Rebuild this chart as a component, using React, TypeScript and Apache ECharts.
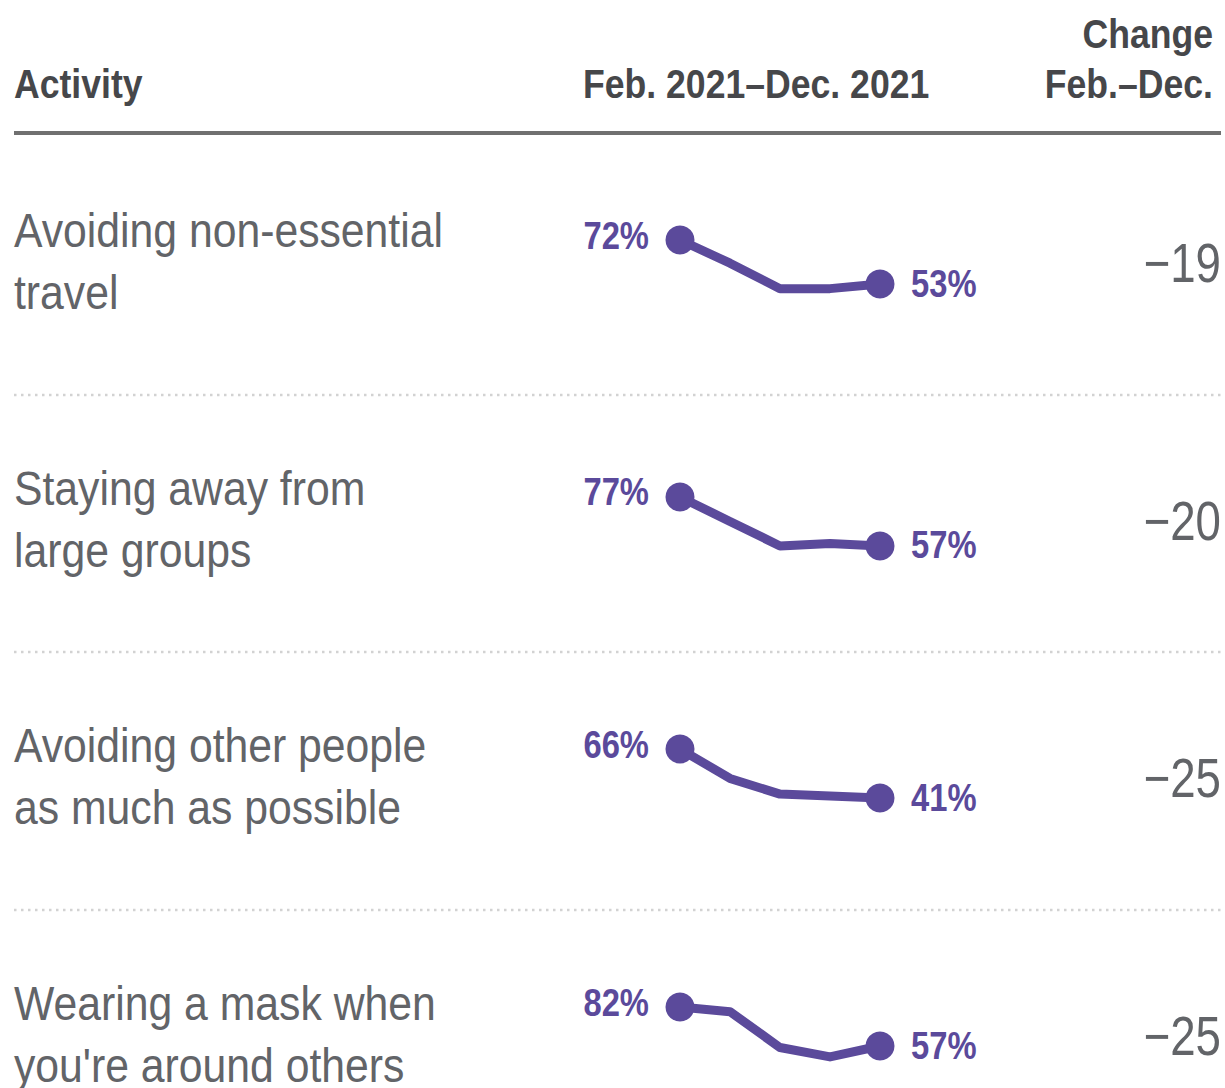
import React, { useEffect, useRef } from "react";
import * as echarts from "echarts";

const months = ["Feb", "Apr", "Jun", "Sep", "Dec"];
const activities = [
  ["Avoiding non-essential", "travel"],
  ["Staying away from", "large groups"],
  ["Avoiding other people", "as much as possible"],
  ["Wearing a mask when", "you're around others"],
];
const travel = [72, 62, 51, 51, 53];
const groups = [77, 67, 57, 58, 57];
const people = [66, 51, 43, 42, 41];
const mask = [82, 79, 56, 50, 57];
const seriesValues = [travel, groups, people, mask];
const changes = ["\u221219", "\u221220", "\u221225", "\u221225"];

// per-row layout of the small multiples (pixel boxes and axis ranges)
const rowGrids = [
  { top: 221.5, height: 92.6, min: 40, max: 80 },
  { top: 489.6, height: 98, min: 40, max: 80 },
  { top: 721.6, height: 98, min: 30, max: 80 },
  { top: 994.5, height: 78, min: 40, max: 90 },
];

const PURPLE = "#5b4a9b";
const GRAY_TEXT = "#626468";
const HEAD_TEXT = "#46474a";
const FONT = "'Liberation Sans', Arial, sans-serif";
const ROW_STEP = 257.5;

export default function App() {
  const ref = useRef<HTMLDivElement>(null);
  useEffect(() => {
    document.body.style.margin = "0";
    const chart = echarts.init(ref.current!, null, { renderer: "svg" });
    const grids = rowGrids.map((g) => ({ left: 680, width: 200, top: g.top, height: g.height }));
    const xAxes = rowGrids.map((_, i) => ({
      type: "category",
      gridIndex: i,
      data: months,
      boundaryGap: false,
      show: false,
    }));
    const yAxes = rowGrids.map((g, i) => ({
      type: "value",
      gridIndex: i,
      min: g.min,
      max: g.max,
      show: false,
    }));
    const series = seriesValues.map((vals, i) => ({
      type: "line",
      xAxisIndex: i,
      yAxisIndex: i,
      data: vals,
      symbol: "circle",
      symbolSize: (_v: any, p: any) => (p.dataIndex === 0 || p.dataIndex === vals.length - 1 ? 29 : 0),
      showAllSymbol: true,
      lineStyle: { color: PURPLE, width: 9, join: "round", cap: "round" },
      itemStyle: { color: PURPLE },
      silent: true,
    }));

    const headerText = (text: string, x: number, y: number, align: string) => ({
      type: "text",
      x,
      y,
      scaleX: 0.89,
      style: {
        text,
        fill: HEAD_TEXT,
        font: `bold 40px ${FONT}`,
        textAlign: align,
        textVerticalAlign: "middle",
      },
    });

    const graphics: any[] = [
      headerText("Activity", 14, 84, "left"),
      headerText("Feb. 2021\u2013Dec. 2021", 583, 84, "left"),
      headerText("Change", 1213, 34, "right"),
      headerText("Feb.\u2013Dec.", 1213, 84, "right"),
      {
        type: "line",
        shape: { x1: 14, y1: 133, x2: 1221, y2: 133 },
        style: { stroke: "#707070", lineWidth: 4 },
      },
    ];
    [395, 652, 910].forEach((y) =>
      graphics.push({
        type: "line",
        shape: { x1: 14, y1: y, x2: 1221, y2: y },
        style: { stroke: "#d2d2d2", lineWidth: 2.5, lineDash: [2.5, 4.5] },
      })
    );
    activities.forEach((lines, r) => {
      lines.forEach((t, li) => {
        graphics.push({
          type: "text",
          x: 14,
          y: 231 + r * ROW_STEP + li * 62,
          scaleX: 0.89,
          style: {
            text: t,
            fill: GRAY_TEXT,
            font: `48px ${FONT}`,
            textAlign: "left",
            textVerticalAlign: "middle",
          },
        });
      });
      graphics.push({
        type: "text",
        x: 1221,
        y: 263 + r * ROW_STEP,
        scaleX: 0.83,
        style: {
          text: changes[r],
          fill: GRAY_TEXT,
          font: `55px ${FONT}`,
          textAlign: "right",
          textVerticalAlign: "middle",
        },
      });
    });

    chart.setOption({
      animation: false,
      grid: grids,
      xAxis: xAxes,
      yAxis: yAxes,
      series,
      graphic: graphics,
    });

    // value labels at the first and last point, placed via the chart's own scales
    const labels: any[] = [];
    seriesValues.forEach((vals, r) => {
      const last = vals.length - 1;
      const p0 = chart.convertToPixel({ xAxisIndex: r, yAxisIndex: r }, [0, vals[0]]) as number[];
      const p1 = chart.convertToPixel({ xAxisIndex: r, yAxisIndex: r }, [last, vals[last]]) as number[];
      labels.push({
        type: "text",
        x: p0[0] - 31,
        y: p0[1] - 5,
        scaleX: 0.84,
        style: {
          text: `${vals[0]}%`,
          fill: PURPLE,
          font: `bold 39px ${FONT}`,
          textAlign: "right",
          textVerticalAlign: "middle",
        },
      });
      labels.push({
        type: "text",
        x: p1[0] + 31,
        y: p1[1] - 1,
        scaleX: 0.84,
        style: {
          text: `${vals[last]}%`,
          fill: PURPLE,
          font: `bold 39px ${FONT}`,
          textAlign: "left",
          textVerticalAlign: "middle",
        },
      });
    });
    chart.setOption({ graphic: graphics.concat(labels) });

    return () => chart.dispose();
  }, []);
  return <div ref={ref} style={{ width: 1225, height: 1088 }} />;
}
